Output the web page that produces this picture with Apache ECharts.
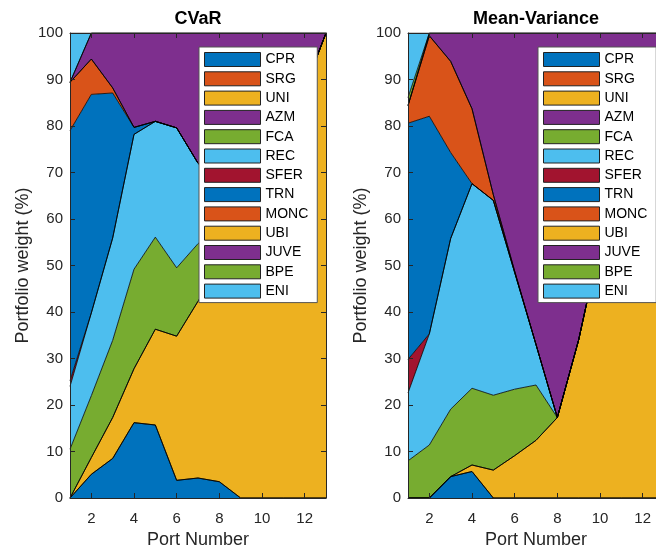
<!DOCTYPE html>
<html>
<head>
<meta charset="utf-8">
<script src="https://cdn.jsdelivr.net/npm/echarts@6/dist/echarts.min.js"></script>
<style>
html,body{margin:0;padding:0;background:#fff;overflow:hidden;width:656px;height:554px;}
#chart{width:664px;height:554px;}
</style>
</head>
<body>
<div id="chart"></div>
<script>
// Port numbers (x categories)
const ports = ['1','2','3','4','5','6','7','8','9','10','11','12','13'];
const assets = ['CPR','SRG','UNI','AZM','FCA','REC','SFER','TRN','MONC','UBI','JUVE','BPE','ENI'];
const yTicks = [0,10,20,30,40,50,60,70,80,90,100];

// CVaR portfolio weights (%)
const cvar_CPR  = [0, 5.1, 8.5, 16.2, 15.7, 3.8, 4.3, 3.5, 0, 0, 0, 0, 0];
const cvar_SRG  = [0, 0, 0, 0, 0, 0, 0, 0, 0, 0, 0, 0, 0];
const cvar_UNI  = [0, 3.6, 8.8, 11.6, 20.6, 31.0, 38.0, 46.5, 65, 74, 81, 88, 100];
const cvar_AZM  = [0, 0, 0, 0, 0, 0, 0, 0, 0, 0, 0, 0, 0];
const cvar_FCA  = [10.5, 13.3, 16.6, 21.4, 19.8, 14.7, 12.4, 8, 2, 0, 0, 0, 0];
const cvar_REC  = [13.5, 17.8, 22.0, 29.0, 24.9, 30.1, 17.3, 10, 3, 0, 0, 0, 0];
const cvar_SFER = [1.2, 0, 0, 0, 0, 0, 0, 0, 0, 0, 0, 0, 0];
const cvar_TRN  = [53.8, 47.0, 31.2, 1.5, 0, 0, 0, 0, 0, 0, 0, 0, 0];
const cvar_MONC = [10.4, 7.6, 1.1, 0, 0, 0, 0, 0, 0, 0, 0, 0, 0];
const cvar_UBI  = [0, 0, 0, 0, 0, 0, 0, 0, 0, 0, 0, 0, 0];
const cvar_JUVE = [0, 5.6, 11.8, 20.3, 19.0, 20.4, 28.0, 32, 30, 26, 19, 12, 0];
const cvar_BPE  = [0, 0, 0, 0, 0, 0, 0, 0, 0, 0, 0, 0, 0];
const cvar_ENI  = [10.6, 0, 0, 0, 0, 0, 0, 0, 0, 0, 0, 0, 0];

// Mean-Variance portfolio weights (%)
const mv_CPR  = [0, 0, 4.6, 5.7, 0, 0, 0, 0, 0, 0, 0, 0, 0];
const mv_SRG  = [0, 0, 0, 0, 0, 0, 0, 0, 0, 0, 0, 0, 0];
const mv_UNI  = [0, 0, 0, 1.4, 6.0, 9.1, 12.4, 17.3, 34, 55, 72, 86, 100];
const mv_AZM  = [0, 0, 0, 0, 0, 0, 0, 0, 0, 0, 0, 0, 0];
const mv_FCA  = [8.0, 11.4, 14.5, 16.5, 16.1, 14.3, 11.9, 0, 0, 0, 0, 0, 0];
const mv_REC  = [14.6, 23.9, 36.7, 44.0, 41.9, 25.1, 8.7, 0, 0, 0, 0, 0, 0];
const mv_SFER = [7.2, 0, 0, 0, 0, 0, 0, 0, 0, 0, 0, 0, 0];
const mv_TRN  = [50.8, 46.8, 18.5, 0, 0, 0, 0, 0, 0, 0, 0, 0, 0];
const mv_MONC = [3.8, 17.3, 19.6, 16.1, 1.2, 0.3, 0, 0, 0, 0, 0, 0, 0];
const mv_UBI  = [0, 0, 0, 0, 0, 0, 0, 0, 0, 0, 0, 0, 0];
const mv_JUVE = [0, 0.6, 6.1, 16.3, 34.8, 51.2, 67.0, 82.7, 66, 45, 28, 14, 0];
const mv_BPE  = [1.7, 0, 0, 0, 0, 0, 0, 0, 0, 0, 0, 0, 0];
const mv_ENI  = [13.9, 0, 0, 0, 0, 0, 0, 0, 0, 0, 0, 0, 0];

const cvarData = [cvar_CPR, cvar_SRG, cvar_UNI, cvar_AZM, cvar_FCA, cvar_REC, cvar_SFER, cvar_TRN, cvar_MONC, cvar_UBI, cvar_JUVE, cvar_BPE, cvar_ENI];
const mvData = [mv_CPR, mv_SRG, mv_UNI, mv_AZM, mv_FCA, mv_REC, mv_SFER, mv_TRN, mv_MONC, mv_UBI, mv_JUVE, mv_BPE, mv_ENI];

const palette = ['#0072BD','#D95319','#EDB120','#7E2F8E','#77AC30','#4DBEEE','#A2142F'];
const colorOf = i => palette[i % palette.length];

const FONT = 'Liberation Sans, Arial, Helvetica, sans-serif';
const TXT = '#262626';

function xAxes(gridIndex) {
  const common = {
    type: 'category', data: ports, boundaryGap: false, gridIndex: gridIndex, z: 10,
    axisLine: {show: true, onZero: false, lineStyle: {color: TXT, width: 1}},
    axisTick: {show: true, inside: true, length: 5, interval: (i) => i % 2 === 1, lineStyle: {color: TXT}},
    splitLine: {show: false}
  };
  return [
    Object.assign({}, common, {
      position: 'bottom',
      axisLabel: {show: true, interval: (i) => i % 2 === 1, color: TXT, fontSize: 15, fontFamily: FONT, margin: 13},
      name: 'Port Number', nameLocation: 'middle', nameGap: 33,
      nameTextStyle: {color: TXT, fontSize: 18, fontFamily: FONT}
    }),
    Object.assign({}, common, {position: 'top', axisLabel: {show: false}})
  ];
}
function yAxes(gridIndex) {
  const common = {
    type: 'value', min: 0, max: 100, interval: 10, gridIndex: gridIndex, z: 10,
    axisLine: {show: true, lineStyle: {color: TXT, width: 1}},
    axisTick: {show: true, inside: true, length: 5, lineStyle: {color: TXT}},
    splitLine: {show: false}
  };
  return [
    Object.assign({}, common, {
      position: 'left',
      axisLabel: {show: true, color: TXT, fontSize: 15, fontFamily: FONT, margin: 7},
      name: 'Portfolio weight (%)', nameLocation: 'middle', nameGap: 38,
      nameTextStyle: {color: TXT, fontSize: 18, fontFamily: FONT}
    }),
    Object.assign({}, common, {position: 'right', axisLabel: {show: false}})
  ];
}

function makeSeries(dataSets, stackName, xIdx, yIdx) {
  return assets.map((name, i) => ({
    name: name, type: 'line', stack: stackName,
    xAxisIndex: xIdx, yAxisIndex: yIdx,
    data: dataSets[i],
    symbol: 'none', showSymbol: false,
    itemStyle: {color: colorOf(i)},
    lineStyle: {color: '#000', width: 0.8},
    areaStyle: {color: colorOf(i), opacity: 1},
    emphasis: {disabled: true},
    silent: true, z: 2
  }));
}

function legendAt(left) {
  return {
    orient: 'vertical', left: left, top: 47,
    padding: [5, 5, 4, 5], itemWidth: 56, itemHeight: 14, itemGap: 4.3,
    icon: 'rect', selectedMode: false,
    backgroundColor: '#fff', borderColor: '#555', borderWidth: 1,
    itemStyle: {borderColor: '#000', borderWidth: 1},
    textStyle: {color: '#000', fontSize: 14, lineHeight: 14, fontFamily: FONT, padding: [0, 4, 0, 0]},
    data: assets.map((n, i) => ({name: n, itemStyle: {color: colorOf(i), borderColor: '#222', borderWidth: 1}}))
  };
}

const chart = echarts.init(document.getElementById('chart'), null, {renderer: 'canvas'});
chart.setOption({
  animation: false,
  backgroundColor: '#fff',
  textStyle: {fontFamily: FONT},
  title: [
    {text: 'CVaR', left: 198, top: 10, textAlign: 'center', padding: 0,
     textStyle: {fontSize: 18, fontWeight: 'bold', color: '#000', fontFamily: FONT}},
    {text: 'Mean-Variance', left: 536, top: 10, textAlign: 'center', padding: 0,
     textStyle: {fontSize: 18, fontWeight: 'bold', color: '#000', fontFamily: FONT}}
  ],
  grid: [
    {left: 70, top: 33, width: 256, bottom: 53, containLabel: false},
    {left: 408, top: 33, width: 256, bottom: 53, containLabel: false}
  ],
  xAxis: xAxes(0).concat(xAxes(1)),
  yAxis: yAxes(0).concat(yAxes(1)),
  legend: [legendAt(199), legendAt(538)],
  series: makeSeries(cvarData, 'cvar', 0, 0).concat(makeSeries(mvData, 'mv', 2, 2))
});
</script>
</body>
</html>
